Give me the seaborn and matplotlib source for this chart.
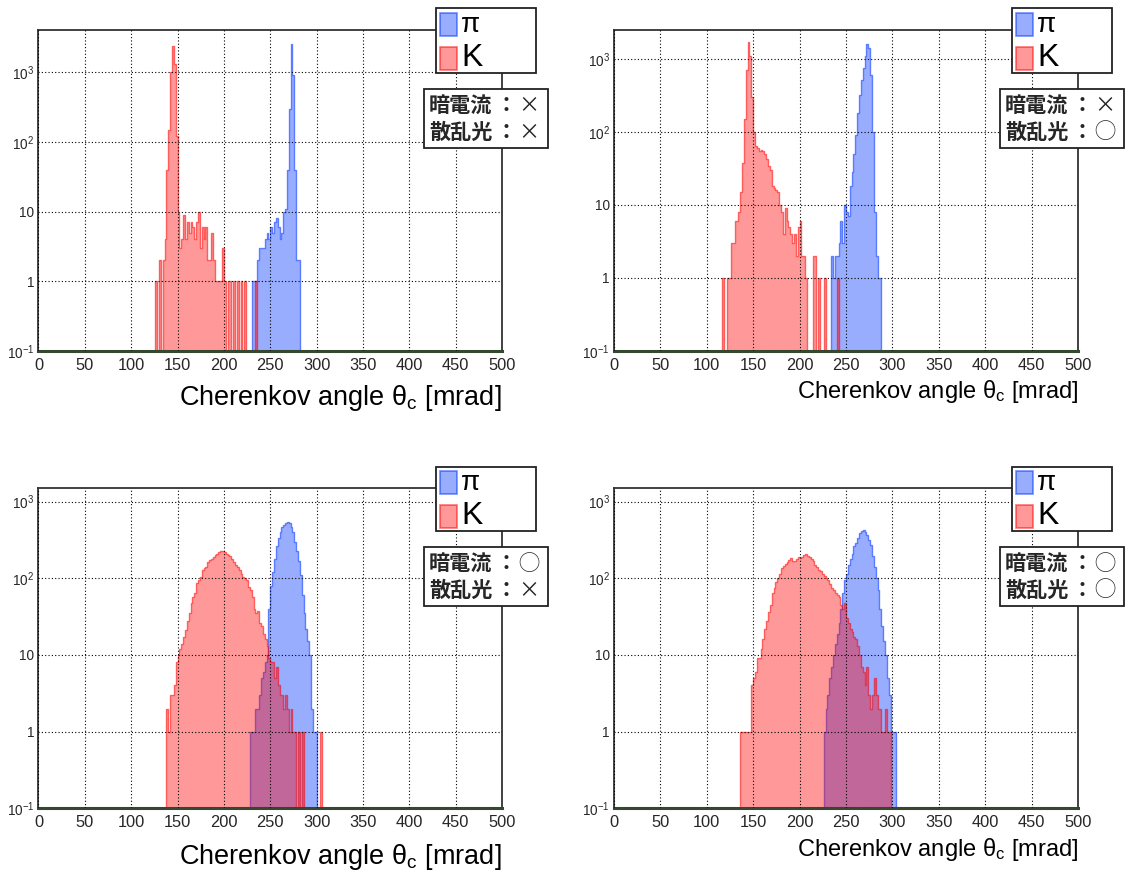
import numpy as np
import pandas as pd
import matplotlib
matplotlib.use("Agg")
import matplotlib.pyplot as plt
from matplotlib.patches import Rectangle
from matplotlib.ticker import FixedLocator, FixedFormatter, LogLocator, MultipleLocator, NullFormatter
import seaborn as sns

# ---------------------------------------------------------------------------
# Histogram contents: counts per 2 mrad bin, each series starting at *_start
# ---------------------------------------------------------------------------
BIN_WIDTH = 2  # mrad

# dark current: off, scattered light: off
pi_start_a = 230
pi_counts_a = [1, 1, 1, 2, 3, 3, 3, 4, 5, 4, 6, 5, 7, 8, 6, 4, 5, 10, 11, 40,
               300, 2500, 900, 40, 2, 2]
k_start_a = 126
k_counts_a = [1, 0, 2, 0, 2, 4, 40, 150, 1000, 2400, 1300, 120, 10, 3, 4, 9, 4,
              7, 5, 7, 6, 4, 7, 10, 3, 6, 4, 6, 2, 2, 5, 2, 1, 1, 1, 1, 3, 1, 0,
              1, 1, 0, 1, 0, 1, 0, 1, 0, 1, 0, 0, 0, 0, 0, 1]

# dark current: off, scattered light: on
pi_start_b = 234
pi_counts_b = [2, 1, 2, 2, 3, 6, 3, 10, 8, 7, 18, 28, 50, 90, 180, 320, 520, 750,
               1100, 1600, 1400, 600, 100, 8, 2, 1, 1]
k_start_b = 116
k_counts_b = [1, 0, 0, 1, 1, 3, 3, 6, 6, 8, 15, 37, 150, 700, 1700, 1100, 300,
              100, 64, 60, 54, 57, 55, 49, 42, 34, 30, 18, 17, 16, 15, 10, 8, 4,
              9, 6, 5, 4, 3, 4, 2, 5, 6, 2, 2, 1, 0, 0, 0, 2, 2, 0, 1, 0, 0, 1,
              0, 0, 0, 0, 0, 0, 1]

# dark current: on, scattered light: off
pi_start_c = 228
pi_counts_c = [1, 1, 1, 2, 2, 3, 5, 6, 8, 10, 40, 80, 120, 180, 260, 340, 400,
               460, 500, 520, 540, 520, 460, 400, 300, 230, 170, 110, 60, 35, 22,
               15, 10, 2, 1, 1]
k_start_c = 138
k_counts_c = [2, 1, 3, 3, 4, 8, 10, 12, 14, 17, 21, 28, 35, 47, 57, 64, 86, 95,
              105, 128, 135, 141, 165, 173, 180, 192, 200, 205, 222, 225, 230,
              220, 207, 200, 195, 180, 165, 149, 140, 128, 115, 105, 100, 95, 78,
              70, 57, 40, 35, 37, 26, 24, 19, 16, 13, 9, 8, 8, 5, 7, 4, 3, 3, 2,
              3, 2, 1, 2, 1, 1, 0, 1, 0, 1, 0, 0, 0, 0, 0, 0, 0, 0, 0, 1]

# dark current: on, scattered light: on
pi_start_d = 226
pi_counts_d = [1, 2, 3, 5, 7, 10, 14, 19, 26, 40, 64, 95, 115, 150, 180, 210,
               260, 290, 340, 390, 420, 425, 400, 370, 320, 270, 195, 140, 100,
               70, 40, 24, 15, 10, 5, 3, 1, 1, 1]
k_start_d = 136
k_counts_d = [1, 1, 1, 1, 1, 1, 4, 5, 6, 9, 9, 12, 16, 22, 28, 36, 45, 64, 75,
              90, 100, 115, 135, 145, 155, 165, 175, 183, 170, 168, 180, 187,
              185, 192, 200, 207, 195, 187, 178, 168, 150, 140, 128, 125, 115,
              108, 100, 95, 85, 75, 70, 64, 60, 57, 45, 40, 47, 30, 26, 22, 20,
              17, 16, 13, 10, 7, 6, 4, 7, 3, 2, 3, 5, 3, 2, 2, 1, 1, 2, 1, 1]

species_labels = ["π", "K"]
condition_names = ["暗電流", "散乱光"]
dark_current_flags = ["×", "×", "◯", "◯"]
scattered_light_flags = ["×", "◯", "×", "◯"]
y_tick_values = [0.1, 1, 10, 100, 1000]
y_tick_labels = [r"$10^{-1}$", "1", "10", r"$10^{2}$", r"$10^{3}$"]
x_label = r"Cherenkov angle θ$_{\mathrm{c}}$ [mrad]"

# ---------------------------------------------------------------------------
# Style
# ---------------------------------------------------------------------------
sns.set_style("white")
plt.rcParams["font.family"] = ["Liberation Sans", "Noto Sans CJK JP", "DejaVu Sans"]
plt.rcParams["mathtext.fontset"] = "custom"
plt.rcParams["mathtext.rm"] = "Liberation Sans"
plt.rcParams["mathtext.it"] = "Liberation Sans:italic"
plt.rcParams["mathtext.bf"] = "Liberation Sans:bold"

PI_FACE = (0.0, 0.2, 1.0, 0.40)
PI_EDGE = (0.0, 0.2, 1.0, 0.55)
K_FACE = (1.0, 0.0, 0.0, 0.40)
K_EDGE = (1.0, 0.0, 0.0, 0.55)
CJK = ["Noto Sans CJK JP", "DejaVu Sans"]

W, H = 1126, 875
fig = plt.figure(figsize=(W / 100, H / 100), dpi=100)


def px_rect(x0, y0, x1, y1):
    """Figure-fraction rectangle from pixel corners (origin at top-left)."""
    return [x0 / W, 1 - y1 / H, (x1 - x0) / W, (y1 - y0) / H]


def fx(x):
    return x / W


def fy(y):
    return 1 - y / H


def draw_species(ax, start, counts, face, edge):
    counts = np.asarray(counts, dtype=float)
    centers = start + BIN_WIDTH * np.arange(len(counts)) + BIN_WIDTH / 2
    frame = pd.DataFrame({"theta": centers, "entries": counts})
    sns.histplot(data=frame, x="theta", weights="entries",
                 binwidth=BIN_WIDTH, binrange=(0, 500),
                 element="step", fill=True, color=face[:3], facecolor=face,
                 edgecolor=edge, linewidth=1.0, ax=ax)


panels = [
    dict(frame=(38.5, 29.5, 502, 351), ymax=4100, pi=(pi_start_a, pi_counts_a),
         k=(k_start_a, k_counts_a), label_size=19.5, label_base=405),
    dict(frame=(614, 29.5, 1078, 351), ymax=2520, pi=(pi_start_b, pi_counts_b),
         k=(k_start_b, k_counts_b), label_size=17, label_base=398),
    dict(frame=(38.5, 487.7, 502, 808.3), ymax=1520, pi=(pi_start_c, pi_counts_c),
         k=(k_start_c, k_counts_c), label_size=19.5, label_base=864),
    dict(frame=(614, 487.7, 1078, 808.3), ymax=1520, pi=(pi_start_d, pi_counts_d),
         k=(k_start_d, k_counts_d), label_size=17, label_base=856),
]

for i, p in enumerate(panels):
    x0, y0, x1, y1 = p["frame"]
    ax = fig.add_axes(px_rect(x0, y0, x1, y1))

    draw_species(ax, *p["pi"], PI_FACE, PI_EDGE)
    draw_species(ax, *p["k"], K_FACE, K_EDGE)

    ax.set_yscale("log")
    ax.set_xlim(0, 500)
    ax.set_ylim(0.1, p["ymax"])
    ax.set_xlabel("")
    ax.set_ylabel("")

    ax.xaxis.set_major_locator(MultipleLocator(50))
    ax.xaxis.set_minor_locator(MultipleLocator(10))
    ax.yaxis.set_major_locator(FixedLocator(y_tick_values))
    ax.yaxis.set_major_formatter(FixedFormatter(y_tick_labels))
    ax.yaxis.set_minor_locator(LogLocator(base=10, subs=np.arange(2, 10), numticks=20))
    ax.yaxis.set_minor_formatter(NullFormatter())

    ax.tick_params(axis="both", which="both", direction="in", top=False,
                   right=False, color="black")
    ax.tick_params(axis="x", which="major", length=6.0, width=1.0,
                   labelsize=11.8, pad=5)
    ax.tick_params(axis="x", which="minor", length=3.2, width=0.9)
    ax.tick_params(axis="y", which="major", length=10, width=1.0,
                   labelsize=9.8, pad=3)
    ax.tick_params(axis="y", which="minor", length=5, width=0.9)

    ax.set_axisbelow(False)
    ax.grid(True, which="major", color="black", linestyle=(0, (1, 2)),
            linewidth=0.8)
    for side in ("top", "right", "left"):
        ax.spines[side].set_color("#333333")
        ax.spines[side].set_linewidth(1.3)
    ax.spines["bottom"].set_color("#36482f")
    ax.spines["bottom"].set_linewidth(2.2)

    # axis title, right-aligned at the frame edge
    fig.text(fx(x1), fy(p["label_base"]), x_label, ha="right", va="baseline",
             fontsize=p["label_size"], color="black")

    # species key
    lx0, ly0 = x1 - 66, y0 - 21
    fig.add_artist(Rectangle((fx(lx0), fy(ly0 + 64.5)), 100 / W, 64.5 / H,
                             transform=fig.transFigure, facecolor="white",
                             edgecolor="#222222", linewidth=1.3, zorder=5))
    for row, (face, edge, name, size) in enumerate(
            [(PI_FACE, PI_EDGE, species_labels[0], 20),
             (K_FACE, K_EDGE, species_labels[1], 23)]):
        top = ly0 + 4.5 + row * 33.5
        fig.add_artist(Rectangle((fx(lx0 + 4), fy(top + 23)), 17 / W, 23 / H,
                                 transform=fig.transFigure, facecolor=face,
                                 edgecolor=edge, linewidth=1.2, zorder=6))
        fig.text(fx(lx0 + 25), fy(top + 11.5), name, ha="left", va="center",
                 fontsize=size, color="black", zorder=7)

    # condition box
    bx0, by0 = x1 - 78, y0 + 59.5
    fig.add_artist(Rectangle((fx(bx0), fy(by0 + 59)), 124 / W, 59 / H,
                             transform=fig.transFigure, facecolor="white",
                             edgecolor="#222222", linewidth=1.3, zorder=5))
    flags = [dark_current_flags[i], scattered_light_flags[i]]
    for row in range(2):
        yc = by0 + 16.5 + row * 26.5
        fig.text(fx(bx0 + 5), fy(yc), condition_names[row], ha="left",
                 va="center", fontsize=15.2, fontweight="bold", family=CJK,
                 zorder=7)
        fig.text(fx(bx0 + 82), fy(yc), "：", ha="center", va="center",
                 fontsize=15.2, fontweight="bold", family=CJK, zorder=7)
        fig.text(fx(bx0 + 105), fy(yc), flags[row], ha="center", va="center",
                 fontsize=15.2, family=CJK, zorder=7)

fig.savefig("out.png", dpi=100, facecolor="white")
